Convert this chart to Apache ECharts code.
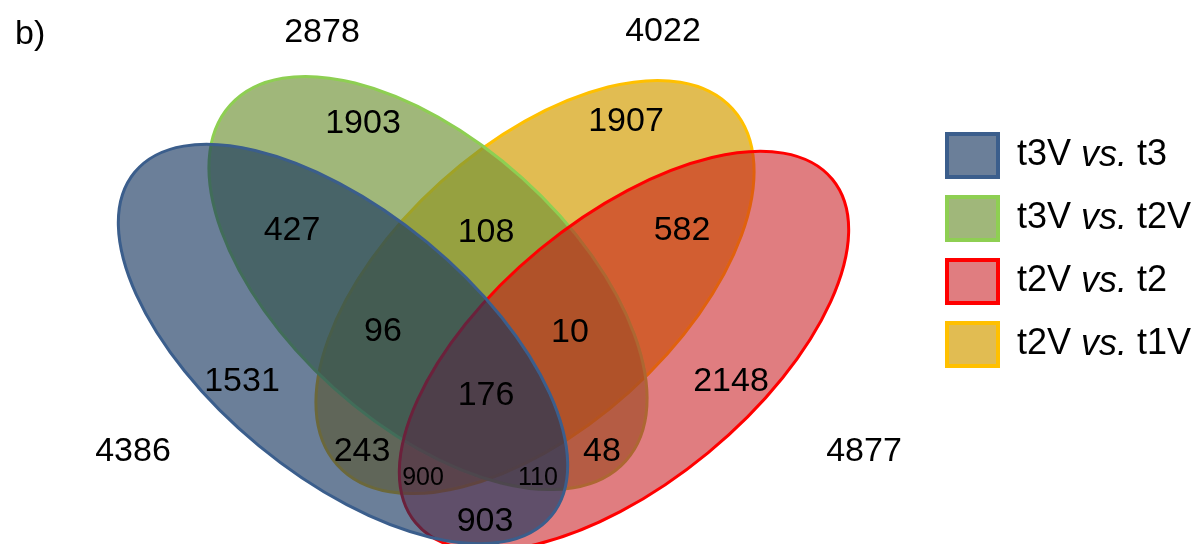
<!DOCTYPE html>
<html>
<head>
<meta charset="utf-8">
<script src="https://cdn.jsdelivr.net/npm/echarts@6/dist/echarts.min.js"></script>
<style>
  html, body { margin: 0; padding: 0; background: #fff; }
  #chart { width: 1202px; height: 544px; }
</style>
</head>
<body>
<div id="chart"></div>
<script>
// sets, in legend order
const setNames = ['t3V vs. t3', 't3V vs. t2V', 't2V vs. t2', 't2V vs. t1V'];
// totals printed outside each ellipse
const setTotals = [4386, 2878, 4877, 4022];
// counts inside the regions
const regionCounts = [1903, 1907, 427, 108, 582, 96, 10, 1531, 176, 2148, 243, 48, 900, 110, 903];

// --- layout (pixels of the 1202x544 picture) ---
const setStyle = [
    { fill: 'rgba(20,52,93,0.63)',  stroke: '#3b5e8c' },
    { fill: 'rgba(113,148,57,0.67)', stroke: '#8ecf52' },
    { fill: 'rgba(199,19,24,0.55)', stroke: '#ff0000' },
    { fill: 'rgba(212,159,8,0.7)',  stroke: '#ffc000' }
];
// cx, cy, semi-major, semi-minor, rotation (deg, counter-clockwise)
const setEllipse = [
    [343, 344, 270, 132, -39.5],
    [428, 283, 266, 141, -42],
    [624, 351, 270, 132, 39.5],
    [535, 287, 266, 141, 42]
];
const totalPos = [[133, 450], [322, 31], [864, 450], [663, 30]];
const regionPos = [[363, 122], [626, 120], [292, 229], [486, 231], [682, 229], [383, 330], [570, 331],
    [242, 380], [486, 394], [731, 380], [362, 450], [602, 450], [423, 476], [538, 476], [485, 520]];
const smallRegions = [900, 110];

const chart = echarts.init(document.getElementById('chart'));

// drawing order: yellow, green, red, blue (blue on top)
const drawOrder = [3, 1, 2, 0];
const ellipseSeries = drawOrder.map(i => ({
    name: setNames[i],
    type: 'custom',
    silent: true,
    data: [setEllipse[i]],
    renderItem: (params, api) => {
        const c = api.coord([api.value(0), api.value(1)]);
        const r = api.size([api.value(2), api.value(3)]);
        return {
            type: 'ellipse',
            x: c[0],
            y: c[1],
            rotation: api.value(4) * Math.PI / 180,
            shape: { cx: 0, cy: 0, rx: Math.abs(r[0]), ry: Math.abs(r[1]) },
            style: { fill: setStyle[i].fill, stroke: setStyle[i].stroke, lineWidth: 3 }
        };
    }
}));

const labelData = regionCounts.map((v, k) => [regionPos[k][0], regionPos[k][1], v])
    .concat(setTotals.map((v, k) => [totalPos[k][0], totalPos[k][1], v]));

chart.setOption({
    animation: false,
    title: {
        text: 'b)',
        left: 10,
        top: 13,
        textStyle: { fontFamily: 'Liberation Sans', fontSize: 34, fontWeight: 'normal', color: '#000' }
    },
    grid: { left: 0, right: 0, top: 0, bottom: 0 },
    xAxis: { type: 'value', min: 0, max: 1202, show: false },
    yAxis: { type: 'value', min: 0, max: 544, inverse: true, show: false },
    legend: {
        orient: 'vertical',
        left: 945,
        top: 132,
        padding: 0,
        itemWidth: 51,
        itemHeight: 43,
        itemGap: 16,
        selectedMode: false,
        icon: 'rect',
        data: setNames.map((n, i) => ({
            name: n,
            itemStyle: { color: setStyle[i].fill, borderColor: setStyle[i].stroke, borderWidth: 4 }
        })),
        formatter: n => n.replace('vs.', '{i|vs.}'),
        textStyle: {
            fontFamily: 'Liberation Sans',
            fontSize: 36,
            color: '#000',
            padding: [0, 0, 0, 14],
            rich: { i: { fontFamily: 'Liberation Sans', fontSize: 36, fontStyle: 'italic', color: '#000' } }
        }
    },
    series: ellipseSeries.concat([{
        type: 'custom',
        silent: true,
        z: 10,
        data: labelData,
        renderItem: (params, api) => {
            const c = api.coord([api.value(0), api.value(1)]);
            const v = api.value(2);
            return {
                type: 'text',
                x: c[0],
                y: c[1] + 2,
                style: {
                    text: String(v),
                    fill: '#000',
                    fontFamily: 'Liberation Sans',
                    fontSize: smallRegions.includes(v) ? 25 : 34,
                    align: 'center',
                    verticalAlign: 'middle'
                }
            };
        }
    }])
});
</script>
</body>
</html>
